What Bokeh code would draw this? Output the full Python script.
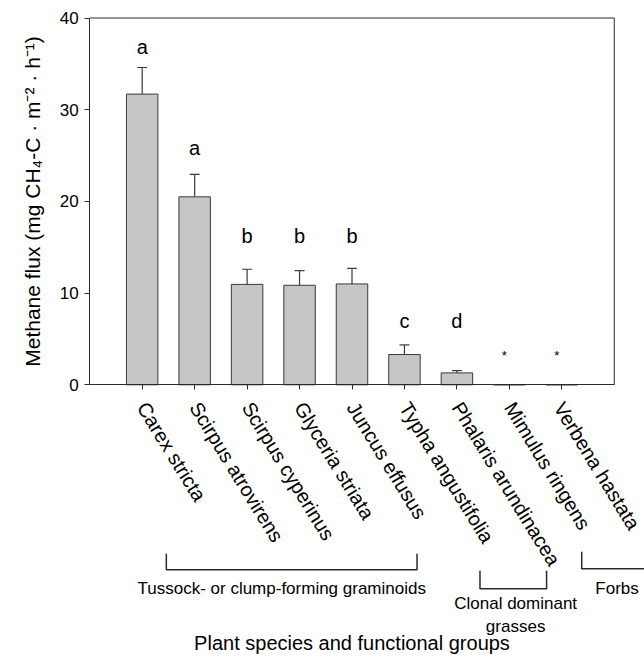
from bokeh.plotting import figure
from bokeh.models import Range1d, FixedTicker, LinearAxis, Whisker, TeeHead, ColumnDataSource
from bokeh.embed import file_html
from bokeh.resources import INLINE
from bokeh.core.properties import value

species = ["Carex stricta", "Scirpus atrovirens", "Scirpus cyperinus", "Glyceria striata",
           "Juncus effusus", "Typha angustifolia", "Phalaris arundinacea", "Mimulus ringens",
           "Verbena hastata"]
flux = [31.7, 20.5, 10.95, 10.85, 11.0, 3.3, 1.3, 0.0, 0.0]
se = [2.9, 2.45, 1.65, 1.6, 1.7, 1.05, 0.25, 0.0, 0.0]
letters = ["a", "a", "b", "b", "b", "c", "d", "*", "*"]
letter_y = [36.8, 25.8, 16.2, 16.2, 16.2, 7.0, 7.0, 3.2, 3.2]
y_ticks = [0, 10, 20, 30, 40]

group_names = ["Tussock- or clump-forming graminoids", "Clonal dominant\ngrasses", "Forbs"]
group_start = [0.46, 6.44, 8.38]
group_end = [5.24, 7.71, 10.5]

FONT = "Liberation Sans"
DARK = "#2a2a2a"

# layout: the frame covers the whole canvas; the plot box is drawn inside it
W, H = 644, 657
ORIG_X, ORIG_Y = 141.7, 384.3   # canvas px of (category 0, flux 0)
PX_X = 52.45                    # px per category step
PX_Y = 366.8 / 40.0             # px per flux unit
X0, X1 = -ORIG_X / PX_X, (W - ORIG_X) / PX_X
Y0, Y1 = -(H - ORIG_Y) / PX_Y, ORIG_Y / PX_Y
FL, FR = -1.0, 9.0              # plot box x extent (categories)
YMAX = y_ticks[-1]

def ypx(px):
    return -px / PX_Y

x = list(range(len(species)))
p = figure(width=W, height=H, x_range=Range1d(X0, X1), y_range=Range1d(Y0, Y1),
           output_backend="svg", toolbar_location=None, min_border=0,
           x_axis_location=None, y_axis_location=None)
p.outline_line_color = None
p.grid.visible = False
p.background_fill_color = "white"
p.border_fill_color = "white"

# plot box (top and right edges)
p.segment(x0=[FL, FR], y0=[YMAX, 0], x1=[FR, FR], y1=[YMAX, YMAX], line_color=DARK, line_width=1)

bars = ColumnDataSource(dict(x=x, top=flux, name=species))
p.vbar(x="x", top="top", width=0.6, source=bars, fill_color="#c6c6c6", line_color="#3a3a3a", line_width=1)

ex = [xi for xi, s in zip(x, se) if s > 0]
elo = [f for f, s in zip(flux, se) if s > 0]
ehi = [f + s for f, s in zip(flux, se) if s > 0]
err = ColumnDataSource(dict(base=ex, lower=elo, upper=ehi))
p.add_layout(Whisker(source=err, base="base", lower="lower", upper="upper", dimension="height",
                     line_color="#3a3a3a", line_width=1.2, lower_head=None,
                     upper_head=TeeHead(size=10, line_color="#3a3a3a", line_width=1.2)))

sizes = ["13px" if l == "*" else "20px" for l in letters]
xoff = [-5 if l == "*" else 0 for l in letters]
lab = ColumnDataSource(dict(x=x, y=letter_y, text=letters, size=sizes, xoff=xoff))
p.text(x="x", y="y", text="text", source=lab, text_align="center", text_baseline="middle",
       text_font=value(FONT), text_font_size="size", text_color="black", x_offset="xoff")

# axes
yaxis = LinearAxis(fixed_location=FL, bounds=(0, YMAX), ticker=FixedTicker(ticks=y_ticks),
                   axis_label="Methane flux (mg CH\u2084-C \u00b7 m\u207b\u00b2 \u00b7 h\u207b\u00b9)")
xaxis = LinearAxis(fixed_location=0, bounds=(FL, FR), ticker=FixedTicker(ticks=x),
                   axis_label="Plant species and functional groups")
xaxis.major_label_overrides = {i: s for i, s in enumerate(species)}
xaxis.major_label_orientation = -1.02
for ax in (xaxis, yaxis):
    ax.axis_line_color = DARK
    ax.major_tick_line_color = DARK
    ax.minor_tick_line_color = None
    ax.major_tick_out = 5
    ax.major_tick_in = 0
    ax.major_label_text_font = FONT
    ax.major_label_text_color = "black"
    ax.axis_label_text_font = FONT
    ax.axis_label_text_font_style = "normal"
    ax.axis_label_text_color = "black"
    ax.axis_label_text_font_size = "20px"
yaxis.axis_label_text_font_size = "21px"
yaxis.major_label_text_font_size = "17px"
yaxis.major_label_standoff = 6
yaxis.axis_label_standoff = 13
xaxis.major_label_text_font_size = "20px"
xaxis.major_label_standoff = 14
xaxis.axis_label_standoff = 54
p.add_layout(yaxis, "left")
p.add_layout(xaxis, "below")

# functional group brackets (pixel offsets below the x axis)
bracket_top = [169, 186, 167]
bracket_bot = [185, 204, 184]
bxs, bys = [], []
for s, e, t, b in zip(group_start, group_end, bracket_top, bracket_bot):
    bxs.append([s, s, e, e])
    bys.append([ypx(t), ypx(b), ypx(b), ypx(t)])
p.multi_line(xs=bxs, ys=bys, line_color=DARK, line_width=1.5)

gl_x = [2.66, 7.12, 8.64]
gl_y = [ypx(204), ypx(219), ypx(204)]
gl_align = ["center", "center", "left"]
gsrc = ColumnDataSource(dict(x=gl_x, y=gl_y, text=group_names, align=gl_align))
p.text(x="x", y="y", text="text", source=gsrc, text_align="align", text_baseline="top",
       text_font=value(FONT), text_font_size="17px", text_color="black",
       text_line_height=1.2, y_offset=-10)

open("out.html", "w").write(file_html(p, INLINE))
